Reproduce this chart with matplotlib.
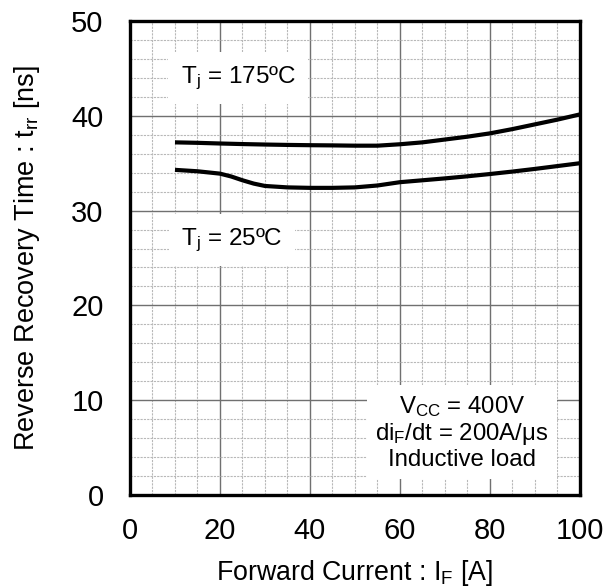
import numpy as np
import matplotlib.pyplot as plt
from matplotlib.ticker import MultipleLocator

plt.rcParams["font.family"] = ["Liberation Sans", "DejaVu Sans"]
plt.rcParams["mathtext.fontset"] = "custom"
plt.rcParams["mathtext.rm"] = "Liberation Sans"
plt.rcParams["mathtext.it"] = "Liberation Sans"
plt.rcParams["mathtext.default"] = "regular"

# forward current [A]
current_175 = [10, 15, 20, 25, 30, 35, 40, 45, 50, 55, 60, 65, 70, 75, 80, 85, 90, 95, 100]
# reverse recovery time at Tj = 175 C [ns]
trr_175 = [37.2, 37.15, 37.08, 37.02, 36.97, 36.93, 36.9, 36.88, 36.85, 36.85,
           37.0, 37.2, 37.5, 37.8, 38.15, 38.6, 39.1, 39.6, 40.15]

current_25 = [10, 15, 20, 22.5, 25, 27.5, 30, 35, 40, 45, 50, 55, 60, 65, 70, 75, 80, 85, 90, 95, 100]
# reverse recovery time at Tj = 25 C [ns]
trr_25 = [34.3, 34.15, 33.9, 33.6, 33.2, 32.85, 32.6, 32.45, 32.4, 32.4, 32.45, 32.65,
          33.0, 33.2, 33.4, 33.62, 33.86, 34.12, 34.4, 34.7, 35.0]

fig = plt.figure(figsize=(6.14, 5.87), dpi=100)
ax = fig.add_axes([0.2117, 0.1567, 0.7329, 0.8075])

ax.set_xlim(0, 100)
ax.set_ylim(0, 50)
ax.xaxis.set_major_locator(MultipleLocator(20))
ax.xaxis.set_minor_locator(MultipleLocator(5))
ax.yaxis.set_major_locator(MultipleLocator(10))
ax.yaxis.set_minor_locator(MultipleLocator(2))

ax.grid(which="minor", color="#b8b8b8", linewidth=0.8, linestyle=(0, (2, 1)))
ax.grid(which="major", color="#707070", linewidth=1.0, linestyle="-")
ax.set_axisbelow(True)

ax.tick_params(which="both", length=0, labelsize=21)
ax.tick_params(axis="x", pad=16)
ax.tick_params(axis="y", pad=19)

for spine in ax.spines.values():
    spine.set_linewidth(2.4)
    spine.set_color("black")

ax.plot(current_175, trr_175, color="black", linewidth=3.0, solid_capstyle="butt", zorder=3)
ax.plot(current_25, trr_25, color="black", linewidth=3.0, solid_capstyle="butt", zorder=3)

box = dict(facecolor="white", edgecolor="none", pad=9)
ax.text(24, 44, "$T_j$ = 175ºC", fontsize=17.5, ha="center", va="center",
        bbox=box, zorder=2)
ax.text(22.7, 26.9, "$T_j$ = 25ºC", fontsize=17.5, ha="center", va="center",
        bbox=box, zorder=2)
ax.text(73.8, 6.6, "$V_{CC}$ = 400V\n$di_F$/dt = 200A/μs\nInductive load",
        fontsize=17.3, ha="center", va="center", linespacing=1.12,
        bbox=dict(facecolor="white", edgecolor="none", pad=6), zorder=2)

ax.set_xlabel("Forward Current : $I_F$ [A]", fontsize=19.3)
ax.set_ylabel("Reverse Recovery Time : $t_{rr}$ [ns]", fontsize=19.5)
ax.xaxis.set_label_coords(0.498, -0.132)
ax.yaxis.set_label_coords(-0.195, 0.5)

fig.savefig("out.png", dpi=100)
